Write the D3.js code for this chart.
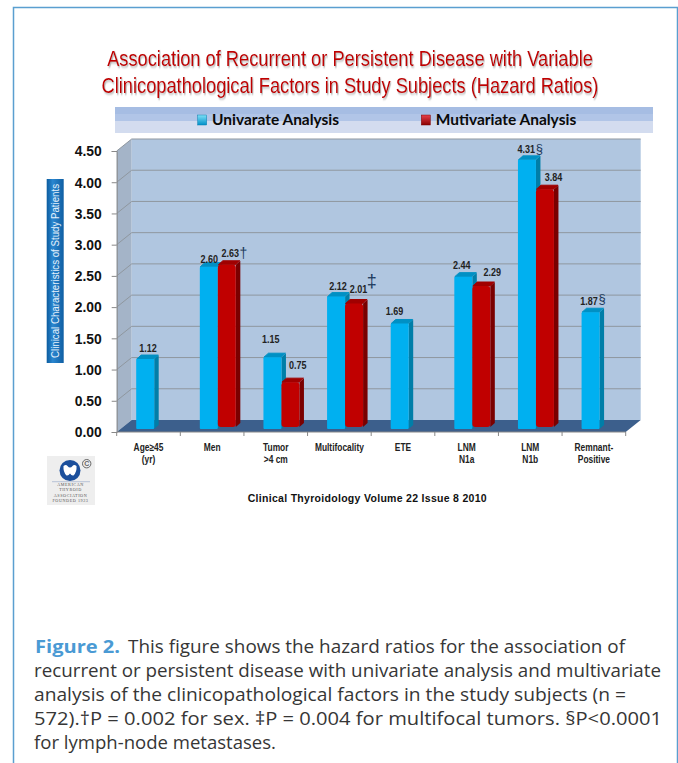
<!DOCTYPE html>
<html>
<head>
<meta charset="utf-8">
<script src="https://cdnjs.cloudflare.com/ajax/libs/d3/7.8.5/d3.min.js"></script>
<style>
body { margin: 0; background: #fff; }
svg { display: block; }
text { font-family: "Liberation Sans", Arial, sans-serif; }
</style>
</head>
<body>
<svg width="678" height="763"></svg>
<script>
var categories = [["Age\u226545", "(yr)"], ["Men"], ["Tumor", ">4 cm"], ["Multifocality"], ["ETE"], ["LNM", "N1a"], ["LNM", "N1b"], ["Remnant-", "Positive"]];
var univariate = [1.12, 2.60, 1.15, 2.12, 1.69, 2.44, 4.31, 1.87];
var multivariate = [null, 2.63, 0.75, 2.01, null, 2.29, 3.84, null];
var uniMarks = ["", "", "", "", "", "", "\u00a7", "\u00a7"];
var multiMarks = ["", "\u2020", "", "\u2021", "", "", "", ""];
var yTicks = [0, 0.5, 1, 1.5, 2, 2.5, 3, 3.5, 4, 4.5];
var titleLines = ["Association of Recurrent or Persistent Disease with Variable", "Clinicopathological Factors in Study Subjects (Hazard Ratios)"];
var logoLines = ["AMERICAN", "THYROID", "ASSOCIATION", "FOUNDED 1923"];
var captionHead = "Figure 2.";
var captionLines = [
  "This figure shows the hazard ratios for the association of",
  "recurrent or persistent disease with univariate analysis and multivariate",
  "analysis of the clinicopathological factors in the study subjects (n =",
  "572).\u2020P = 0.002 for sex. \u2021P = 0.004 for multifocal tumors. \u00a7P<0.0001",
  "for lymph-node metastases."
];

var svg = d3.select("svg");
var defs = svg.append("defs");

var depth = {x: 15, y: -12};
var barDepth = {x: 4.5, y: -4};
var x = d3.scaleBand().domain(d3.range(categories.length)).range([116.7, 625.7]);
var x1 = d3.scaleBand().domain(["uni", "multi"]).range([19.5, 55.5]);
var y = d3.scaleLinear().domain([0, 4.5]).range([432, 151]);

function grad(id, stops, vertical) {
  var g = defs.append("linearGradient").attr("id", id)
    .attr("x1", 0).attr("y1", 0).attr("x2", vertical ? 0 : 1).attr("y2", vertical ? 1 : 0);
  stops.forEach(function(s) {
    g.append("stop").attr("offset", s[0]).attr("stop-color", s[1]);
  });
}

// squeeze a text to a width, the original fonts are narrower than ours
function fit(sel, width) {
  sel.each(function(d, i) {
    var t = d3.select(this);
    var w = typeof width === "function" ? width(d, i) : width;
    var s = w / this.getComputedTextLength();
    var tx = +t.attr("x"), ty = +t.attr("y");
    t.attr("x", 0).attr("y", 0).attr("transform", "translate(" + tx + "," + ty + ") scale(" + s + ",1)");
  });
}

grad("axisBox", [[0, "#0b5c9e"], [0.35, "#2a86d0"], [1, "#0f5fa3"]], false);
grad("swatchBlue", [[0, "#7fe0f7"], [1, "#0090c8"]], true);
grad("swatchRed", [[0, "#e8404a"], [1, "#8a0000"]], true);
defs.append("filter").attr("id", "shadow").attr("x", "-5%").attr("y", "-20%").attr("width", "110%").attr("height", "150%")
  .append("feDropShadow").attr("dx", 1).attr("dy", 1.5).attr("stdDeviation", 0.8).attr("flood-color", "#888").attr("flood-opacity", 0.7);

// page frame
svg.append("path").attr("d", "M13.5,763V7.5H677.5V763").attr("fill", "none").attr("stroke", "#5a9fd0").attr("stroke-width", 1.5);

// title
svg.append("g").selectAll("text").data(titleLines).join("text")
  .attr("x", 350).attr("y", function(d, i) { return 66 + i * 27.3; })
  .attr("text-anchor", "middle").attr("font-size", 21.5)
  .attr("fill", "#c00000").attr("filter", "url(#shadow)")
  .text(function(d) { return d; })
  .call(fit, function(d, i) { return i ? 497 : 486; });

// legend band
var legend = svg.append("g");
legend.append("rect").attr("x", 115).attr("y", 107).attr("width", 538).attr("height", 26).attr("fill", "#d3dcef");
legend.append("rect").attr("x", 115).attr("y", 107).attr("width", 538).attr("height", 14).attr("fill", "#b1c5e7");
legend.append("rect").attr("x", 115).attr("y", 107).attr("width", 538).attr("height", 7).attr("fill", "#a6bde3");
[[197.7, "swatchBlue", "#0b7fb0", "Univarate Analysis", 127], [421.3, "swatchRed", "#7a0000", "Mutivariate Analysis", 140.5]].forEach(function(l) {
  legend.append("rect").attr("x", l[0]).attr("y", 115).attr("width", 9).attr("height", 10)
    .attr("fill", "url(#" + l[1] + ")").attr("stroke", l[2]).attr("stroke-width", 0.5);
  legend.append("text").attr("x", l[0] + 14.4).attr("y", 124.7).attr("font-weight", 700)
    .attr("font-size", 15.5).attr("fill", "#0a0a0a").style("font-family", "Lato")
    .attr("textLength", l[4]).attr("lengthAdjust", "spacingAndGlyphs").text(l[3]);
});

// 3d walls
var x0 = x.range()[0], xEnd = x.range()[1];
var plot = svg.append("g");
plot.append("polygon").attr("points", [[x0, y(4.5)], [x0 + depth.x, y(4.5) + depth.y], [x0 + depth.x, y(0) + depth.y], [x0, y(0)]].join(" ")).attr("fill", "#a4b4c8");
plot.append("rect").attr("x", x0 + depth.x).attr("y", y(4.5) + depth.y).attr("width", xEnd - x0).attr("height", y(0) - y(4.5)).attr("fill", "#b0c6e0");
plot.append("polygon").attr("points", [[x0, y(0)], [x0 + depth.x, y(0) + depth.y], [xEnd + depth.x, y(0) + depth.y], [xEnd, y(0)]].join(" ")).attr("fill", "#3c5f8c");

// gridlines
plot.selectAll("path.grid").data(yTicks.filter(function(d) { return d > 0; })).join("path")
  .attr("class", "grid").attr("fill", "none").attr("stroke", "#8f979f").attr("stroke-width", 1)
  .attr("d", function(d) {
    return "M" + x0 + "," + y(d) + "L" + (x0 + depth.x) + "," + (y(d) + depth.y) + "H" + (xEnd + depth.x);
  });

// y axis
var yAxis = svg.append("g").attr("transform", "translate(" + x0 + ",0)")
  .call(d3.axisLeft(y).tickValues(yTicks).tickFormat(d3.format(".2f")).tickSize(5).tickPadding(10));
yAxis.selectAll("text").attr("font-size", 15).attr("font-weight", 700).attr("fill", "#111")
  .attr("textLength", 27).attr("lengthAdjust", "spacingAndGlyphs").style("font-family", "'Liberation Sans'");
yAxis.select(".domain").attr("stroke", "#888");
yAxis.selectAll("line").attr("stroke", "#888");

// x axis
var xAxis = svg.append("g").attr("transform", "translate(0," + y(0) + ")");
xAxis.append("path").attr("d", "M" + x0 + ",0H" + xEnd).attr("stroke", "#888");
xAxis.selectAll("line").data(d3.range(categories.length + 1)).join("line")
  .attr("x1", function(d) { return x0 + d * x.step(); })
  .attr("x2", function(d) { return x0 + d * x.step(); })
  .attr("y1", 0).attr("y2", 4).attr("stroke", "#888");
var xLabels = xAxis.selectAll("text").data(categories).join("text")
  .attr("text-anchor", "middle").attr("font-size", 10.5).attr("font-weight", 700).attr("fill", "#222")
  .attr("transform", function(d, i) { return "translate(" + (x(i) + x.bandwidth() / 2) + ",18.7) scale(0.8,1)"; });
xLabels.selectAll("tspan").data(function(d) { return d; }).join("tspan")
  .attr("x", 0).attr("y", function(d, i) { return i * 12; }).text(function(d) { return d; });

// bars
var colors = {
  uni: {front: "#00b0f0", side: "#007ea8", top: "#0090c4", r: 1, bottom: 429},
  multi: {front: "#c00000", side: "#7a0000", top: "#a00000", r: 3, bottom: 427}
};
function drawBars(key, values, marks) {
  var c = colors[key];
  var rows = values.map(function(v, i) { return {i: i, v: v, mark: marks[i]}; }).filter(function(d) { return d.v !== null; });
  var g = svg.append("g").attr("class", "bars-" + key);
  var bar = g.selectAll("g").data(rows).join("g")
    .attr("transform", function(d) { return "translate(" + (x(d.i) + x1(key)) + ",0)"; });
  var w = x1.bandwidth();
  function top(d) { return y(d.v) - 3; }
  bar.append("path").attr("fill", c.side).attr("d", function(d) {
    return "M" + w + "," + top(d) + "l" + barDepth.x + "," + barDepth.y + "V" + (c.bottom + barDepth.y) + "L" + w + "," + c.bottom + "Z";
  });
  bar.append("path").attr("fill", c.top).attr("stroke", c.top).attr("stroke-linejoin", "round").attr("d", function(d) {
    return "M0.5," + top(d) + "l" + barDepth.x + "," + barDepth.y + "h" + (w - 1) + "l" + (-barDepth.x) + "," + (-barDepth.y) + "Z";
  });
  bar.append("rect").attr("fill", c.front).attr("width", w).attr("rx", c.r)
    .attr("y", top)
    .attr("height", function(d) { return c.bottom - top(d); });
  return bar;
}
var uniBars = drawBars("uni", univariate, uniMarks);
var multiBars = drawBars("multi", multivariate, multiMarks);

// value labels do not sit on the bars in the original, offsets from bar corner and value height
var uniLabelShift = [[11.8, -10.4], [9.5, -6.9], [7.3, -16.9], [11, -9.6], [3.7, -11.8], [7.5, -10.3], [8.2, -10.2], [7.3, -9.9]];
var multiLabelShift = [null, [12.5, -10.5], [16.3, -15.9], [13.3, -13.8], null, [19.8, -13], [17.5, -10.9], null];
var uniMarkLift = [0, 0, 0, 0, 0, 0, 0, 3];
var markShift = {"\u2020": [13, 1, 14], "\u2021": [13.4, -6, 18], "\u00a7": [13.2, 0.5, 13]};
function labels(bar, shifts, lift) {
  bar.append("text").attr("text-anchor", "middle").attr("font-size", 10.2).attr("font-weight", 700).attr("fill", "#222")
    .attr("x", function(d) { return shifts[d.i][0]; })
    .attr("y", function(d) { return y(d.v) + shifts[d.i][1]; })
    .text(function(d) { return d.v.toFixed(2); })
    .call(fit, 17.5);
  bar.filter(function(d) { return d.mark; }).append("text")
    .attr("text-anchor", "middle").attr("fill", "#1c3a5c")
    .attr("font-size", function(d) { return markShift[d.mark][2]; })
    .attr("x", function(d) { return shifts[d.i][0] + markShift[d.mark][0]; })
    .attr("y", function(d) { return y(d.v) + shifts[d.i][1] + markShift[d.mark][1] - (lift ? lift[d.i] : 0); })
    .text(function(d) { return d.mark; });
}
labels(uniBars, uniLabelShift, uniMarkLift);
labels(multiBars, multiLabelShift);

// y axis title box
svg.append("rect").attr("x", 46.7).attr("y", 179).attr("width", 17).attr("height", 184).attr("fill", "url(#axisBox)");
svg.append("text").attr("transform", "translate(59,358) rotate(-90)").attr("font-size", 10.5).attr("fill", "#e6f1fb")
  .attr("textLength", 174).attr("lengthAdjust", "spacingAndGlyphs")
  .text("Clinical Characteristics of Study Patients");

// association logo
var logo = svg.append("g").attr("transform", "translate(47,456)");
logo.append("rect").attr("width", 48).attr("height", 49).attr("fill", "#eeeeee");
logo.append("circle").attr("cx", 23).attr("cy", 14.5).attr("r", 10.5).attr("fill", "#1b4f9c");
logo.append("path").attr("d", "M16.5,10 Q19,8 20.5,10 Q23,13 25.5,10 Q27,8 29.5,10 Q30,16 26.5,19.5 Q24.5,20 23,17.5 Q21.5,20 19.5,19.5 Q16,16 16.5,10Z").attr("fill", "#fff");
logo.append("circle").attr("cx", 39.7).attr("cy", 7.7).attr("r", 4.2).attr("fill", "#eee").attr("stroke", "#666").attr("stroke-width", 1);
logo.append("text").attr("x", 39.7).attr("y", 10).attr("text-anchor", "middle").attr("font-size", 7).attr("font-weight", 700).attr("fill", "#666").text("C");
logo.append("line").attr("x1", 5).attr("x2", 43).attr("y1", 25.7).attr("y2", 25.7).attr("stroke", "#9fb0cc").attr("stroke-width", 0.7);
logo.selectAll("text.org").data(logoLines).join("text").attr("class", "org")
  .attr("x", 23.5).attr("y", function(d, i) { return 30 + i * 5.3; }).attr("text-anchor", "middle")
  .attr("font-size", 4.2).attr("letter-spacing", 0.55).attr("fill", "#555").style("font-family", "'Liberation Serif'")
  .text(function(d) { return d; });

// source line
svg.append("text").attr("x", 247.7).attr("y", 501.7).attr("font-size", 10.5).attr("font-weight", 700).attr("fill", "#111")
  .attr("textLength", 239).text("Clinical Thyroidology Volume 22 Issue 8 2010");

// caption, each line is forced to the measured width of the original font
var captionWidths = [497, 627, 592, 628, 242];
var caption = svg.append("g").style("font-family", "'Open Sans'").attr("font-size", 18.6).attr("fill", "#363636");
caption.append("text").attr("x", 35).attr("y", 652.7).attr("font-weight", 700).attr("fill", "#4a9ad4")
  .attr("textLength", 85).attr("lengthAdjust", "spacingAndGlyphs").style("font-family", "'Open Sans'").text(captionHead);
caption.selectAll("text.line").data(captionLines).join("text").attr("class", "line")
  .attr("x", function(d, i) { return i ? 34 : 128; })
  .attr("y", function(d, i) { return 652.7 + i * 24; })
  .attr("textLength", function(d, i) { return captionWidths[i]; })
  .attr("lengthAdjust", "spacingAndGlyphs")
  .style("font-family", "'Open Sans'")
  .text(function(d) { return d; });
</script>
</body>
</html>
